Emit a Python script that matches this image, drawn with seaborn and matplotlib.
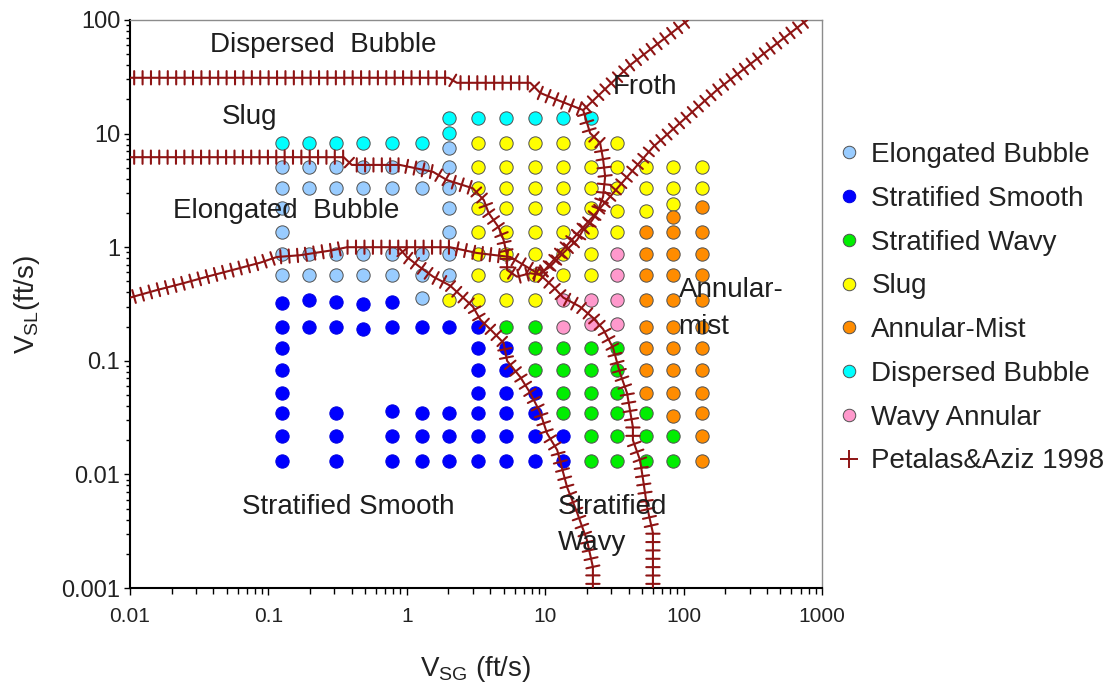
import matplotlib
matplotlib.use("Agg")
import matplotlib.pyplot as plt
import matplotlib.patheffects as pe
from matplotlib.lines import Line2D
import pandas as pd
import seaborn as sns

# ---------------------------------------------------------------------------
# Observed flow regimes: superficial gas (VSG) and liquid (VSL) velocity, ft/s
# ---------------------------------------------------------------------------
EB_VSG = [0.125, 0.125, 0.125, 0.125, 0.125, 0.125,
          0.197, 0.197, 0.197, 0.197,
          0.308, 0.308, 0.308, 0.308,
          0.483, 0.483, 0.483, 0.483,
          0.778, 0.778, 0.778, 0.778,
          1.28, 1.28, 1.28, 1.28, 1.28,
          2.03, 2.03, 2.03, 2.03, 2.03, 2.03, 2.03]
EB_VSL = [5.1, 3.3, 2.2, 1.37, 0.88, 0.57,
          5.1, 3.3, 0.88, 0.57,
          5.1, 3.3, 0.88, 0.57,
          5.1, 3.3, 0.88, 0.57,
          5.1, 3.3, 0.88, 0.57,
          5.1, 3.3, 0.88, 0.57, 0.36,
          7.5, 5.1, 3.3, 2.2, 1.37, 0.88, 0.57]

SS_VSG = [0.125, 0.125, 0.125, 0.125, 0.125, 0.125, 0.125, 0.125,
          0.197, 0.197,
          0.308, 0.308, 0.308, 0.308, 0.308,
          0.483, 0.483,
          0.778, 0.778, 0.778, 0.778, 0.778,
          1.28, 1.28, 1.28, 1.28,
          2.03, 2.03, 2.03, 2.03,
          3.25, 3.25, 3.25, 3.25, 3.25, 3.25, 3.25,
          5.21, 5.21, 5.21, 5.21, 5.21, 5.21,
          8.44, 8.44, 8.44, 8.44,
          13.5, 13.5]
SS_VSL = [0.324, 0.2, 0.13, 0.083, 0.052, 0.035, 0.022, 0.013,
          0.34, 0.2,
          0.33, 0.2, 0.035, 0.022, 0.013,
          0.316, 0.19,
          0.33, 0.2, 0.036, 0.022, 0.013,
          0.2, 0.035, 0.022, 0.013,
          0.2, 0.035, 0.022, 0.013,
          0.2, 0.13, 0.083, 0.052, 0.035, 0.022, 0.013,
          0.13, 0.083, 0.052, 0.035, 0.022, 0.013,
          0.052, 0.035, 0.022, 0.013,
          0.022, 0.013]

SW_VSG = [5.21,
          8.44, 8.44, 8.44,
          13.5, 13.5, 13.5, 13.5,
          21.3, 21.3, 21.3, 21.3, 21.3, 21.3,
          33.2, 33.2, 33.2, 33.2, 33.2, 33.2,
          53.5, 53.5, 53.5,
          84.3, 84.3]
SW_VSL = [0.2,
          0.2, 0.13, 0.083,
          0.13, 0.083, 0.052, 0.035,
          0.13, 0.083, 0.052, 0.035, 0.022, 0.013,
          0.13, 0.083, 0.052, 0.035, 0.022, 0.013,
          0.035, 0.022, 0.013,
          0.022, 0.013]

SL_VSG = [2.03,
          3.25, 3.25, 3.25, 3.25, 3.25, 3.25, 3.25, 3.25,
          5.21, 5.21, 5.21, 5.21, 5.21, 5.21, 5.21, 5.21,
          8.44, 8.44, 8.44, 8.44, 8.44, 8.44, 8.44, 8.44,
          13.5, 13.5, 13.5, 13.5, 13.5, 13.5, 13.5,
          21.3, 21.3, 21.3, 21.3, 21.3, 21.3, 21.3,
          33.2, 33.2, 33.2, 33.2, 33.2,
          53.5, 53.5, 53.5,
          84.3, 84.3, 84.3,
          135.0, 135.0]
SL_VSL = [0.34,
          8.2, 5.1, 3.3, 2.2, 1.37, 0.88, 0.57, 0.34,
          8.2, 5.1, 3.3, 2.2, 1.37, 0.88, 0.57, 0.34,
          8.2, 5.1, 3.3, 2.2, 1.37, 0.88, 0.57, 0.34,
          8.2, 5.1, 3.3, 2.2, 1.37, 0.88, 0.57,
          8.2, 5.1, 3.3, 2.2, 1.37, 0.88, 0.57,
          8.2, 5.1, 3.3, 2.1, 1.37,
          5.1, 3.3, 2.1,
          5.1, 3.3, 2.4,
          5.1, 3.3]

AM_VSG = [53.5, 53.5, 53.5, 53.5, 53.5, 53.5, 53.5, 53.5,
          84.3, 84.3, 84.3, 84.3, 84.3, 84.3, 84.3, 84.3, 84.3, 84.3,
          135.0, 135.0, 135.0, 135.0, 135.0, 135.0, 135.0, 135.0, 135.0,
          135.0, 135.0, 135.0]
AM_VSL = [1.37, 0.88, 0.57, 0.34, 0.2, 0.13, 0.083, 0.052,
          1.84, 1.37, 0.88, 0.57, 0.34, 0.2, 0.13, 0.083, 0.052, 0.033,
          2.26, 1.37, 0.88, 0.57, 0.34, 0.2, 0.13, 0.083, 0.052, 0.035,
          0.022, 0.013]

DB_VSG = [0.125, 0.197, 0.308, 0.483, 0.778, 1.28,
          2.03, 2.03,
          3.25, 5.21, 8.44, 13.5, 21.3]
DB_VSL = [8.2, 8.2, 8.2, 8.2, 8.2, 8.2,
          13.8, 10.1,
          13.8, 13.8, 13.8, 13.8, 13.8]

WA_VSG = [13.5, 13.5, 21.3, 21.3, 33.2, 33.2, 33.2, 33.2]
WA_VSL = [0.34, 0.2, 0.34, 0.21, 0.88, 0.57, 0.34, 0.21]

# ---------------------------------------------------------------------------
# Petalas & Aziz (1998) transition boundaries, (VSG, VSL) in ft/s
# ---------------------------------------------------------------------------
PA_DISPERSED_VSG = [0.01, 2.0, 2.3, 7.8, 9.2, 12.2, 18.8]
PA_DISPERSED_VSL = [31.0, 31.0, 28.0, 28.0, 22.8, 19.8, 16.1]

PA_FROTH_VSG = [18.8, 41.0, 108.0]
PA_FROTH_VSL = [16.1, 40.0, 100.0]

PA_INTERMITTENT_VSG = [18.8, 21.1, 24.9, 26.2, 27.1, 26.2, 23.7, 21.1, 18.8,
                       17.0, 13.5, 10.8, 9.2]
PA_INTERMITTENT_VSL = [16.1, 10.1, 8.3, 5.9, 4.2, 2.8, 2.0, 1.63, 1.42,
                       1.16, 0.89, 0.67, 0.59]

PA_ANNULAR_VSG = [9.2, 22.0, 60.0, 174.0, 780.0]
PA_ANNULAR_VSL = [0.57, 1.85, 7.6, 24.2, 100.0]

PA_ELONGATED_VSG = [0.01, 0.35, 0.4, 0.89, 1.55, 1.95, 3.0, 3.6, 3.9, 4.6,
                    5.0, 5.3, 5.3, 6.25, 7.8, 9.2, 11.4, 13.5, 17.8, 22.1,
                    26.2, 30.9, 34.7, 39.0, 43.0, 43.0, 48.4, 51.0, 54.4,
                    60.0, 60.0]
PA_ELONGATED_VSL = [6.2, 6.2, 5.3, 5.3, 4.6, 3.9, 3.3, 2.6, 2.0, 1.5,
                    1.16, 0.85, 0.63, 0.55, 0.59, 0.57, 0.45, 0.36, 0.30, 0.24,
                    0.19, 0.13, 0.078, 0.052, 0.026, 0.020, 0.0134, 0.0089,
                    0.0052, 0.00305, 0.001]

PA_STRATIFIED_VSG = [0.01, 0.0157, 0.024, 0.036, 0.055, 0.087, 0.115, 0.169,
                     0.29, 0.37, 2.05, 3.2, 5.6, 9.2]
PA_STRATIFIED_VSL = [0.36, 0.42, 0.48, 0.55, 0.63, 0.73, 0.82, 0.85,
                     0.94, 1.0, 1.0, 0.89, 0.82, 0.57]

PA_SMOOTH_VSG = [0.89, 1.0, 1.24, 1.55, 2.05, 2.55, 3.0, 3.4, 4.0, 5.0, 5.3,
                 6.6, 7.8, 9.2, 10.3, 12.2, 13.5, 14.4, 17.0, 20.0, 22.1,
                 22.1]
PA_SMOOTH_VSL = [0.97, 0.82, 0.67, 0.55, 0.46, 0.36, 0.30, 0.23, 0.19, 0.144,
                 0.10, 0.072, 0.052, 0.035, 0.023, 0.0164, 0.0103, 0.0077,
                 0.0046, 0.00265, 0.00153, 0.001]

REGIMES = ["Elongated Bubble", "Stratified Smooth", "Stratified Wavy", "Slug",
           "Annular-Mist", "Dispersed Bubble", "Wavy Annular"]
REGIME_DATA = {
    "Elongated Bubble": (EB_VSG, EB_VSL),
    "Stratified Smooth": (SS_VSG, SS_VSL),
    "Stratified Wavy": (SW_VSG, SW_VSL),
    "Slug": (SL_VSG, SL_VSL),
    "Annular-Mist": (AM_VSG, AM_VSL),
    "Dispersed Bubble": (DB_VSG, DB_VSL),
    "Wavy Annular": (WA_VSG, WA_VSL),
}
FILL = {
    "Elongated Bubble": "#99CCFF",
    "Stratified Smooth": "#0000FF",
    "Stratified Wavy": "#00EE00",
    "Slug": "#FFFF00",
    "Annular-Mist": "#FF8C00",
    "Dispersed Bubble": "#00FFFF",
    "Wavy Annular": "#FF99CC",
}
EDGE = {k: "#505050" for k in REGIMES}
EDGE["Stratified Smooth"] = "#0000E0"
BOUNDARY_COLOR = "#8E1414"

frames = []
for name in REGIMES:
    vsg, vsl = REGIME_DATA[name]
    frames.append(pd.DataFrame({"VSG": vsg, "VSL": vsl, "Regime": name}))
points = pd.concat(frames, ignore_index=True)

boundaries = [
    (PA_DISPERSED_VSG, PA_DISPERSED_VSL),
    (PA_FROTH_VSG, PA_FROTH_VSL),
    (PA_INTERMITTENT_VSG, PA_INTERMITTENT_VSL),
    (PA_ANNULAR_VSG, PA_ANNULAR_VSL),
    (PA_ELONGATED_VSG, PA_ELONGATED_VSL),
    (PA_STRATIFIED_VSG, PA_STRATIFIED_VSL),
    (PA_SMOOTH_VSG, PA_SMOOTH_VSL),
]

# ---------------------------------------------------------------------------
sns.set_theme(style="white")
plt.rcParams["font.family"] = ["Liberation Sans", "DejaVu Sans"]
plt.rcParams["mathtext.default"] = "regular"

fig = plt.figure(figsize=(11.16, 6.94), dpi=100)
ax = fig.add_axes([0.1165, 0.1527, 0.6201, 0.8185])
ax.set_xscale("log")
ax.set_yscale("log")

for name in REGIMES:
    sub = points[points["Regime"] == name]
    sns.scatterplot(data=sub, x="VSG", y="VSL", color=FILL[name],
                    edgecolor=EDGE[name], linewidth=0.7, s=92, ax=ax,
                    legend=False, zorder=3)

cross_effects = [
    pe.TickedStroke(angle=90, spacing=6.0, length=0.8),
    pe.TickedStroke(angle=-90, spacing=6.0, length=0.8),
    pe.Normal(),
]
for vsg, vsl in boundaries:
    sns.lineplot(x=vsg, y=vsl, sort=False, estimator=None, ax=ax,
                 color=BOUNDARY_COLOR, linewidth=1.5, legend=False,
                 path_effects=cross_effects, zorder=4)

ax.set_xlim(0.01, 1000)
ax.set_ylim(0.001, 100)
ax.set_xticks([0.01, 0.1, 1, 10, 100, 1000],
              ["0.01", "0.1", "1", "10", "100", "1000"])
ax.set_yticks([0.001, 0.01, 0.1, 1, 10, 100],
              ["0.001", "0.01", "0.1", "1", "10", "100"])
ax.xaxis.set_minor_locator(matplotlib.ticker.LogLocator(base=10, subs=range(2, 10)))
ax.yaxis.set_minor_locator(matplotlib.ticker.LogLocator(base=10, subs=range(2, 10)))
ax.xaxis.set_minor_formatter(matplotlib.ticker.NullFormatter())
ax.yaxis.set_minor_formatter(matplotlib.ticker.NullFormatter())
ax.tick_params(which="both", direction="out", color="black", width=1.0,
               labelcolor="#222222")
ax.tick_params(axis="x", which="major", length=5, pad=9, labelsize=15)
ax.tick_params(axis="x", which="minor", length=4)
ax.tick_params(axis="y", which="major", length=4, pad=3, labelsize=17)
ax.tick_params(axis="y", which="minor", length=3)
ax.tick_params(axis="x", which="both", bottom=True, top=False)
ax.tick_params(axis="y", which="both", left=True, right=False)

for side in ("left", "bottom"):
    ax.spines[side].set_color("black")
    ax.spines[side].set_linewidth(1.5)
for side in ("top", "right"):
    ax.spines[side].set_color("#8C8C8C")
    ax.spines[side].set_linewidth(1.0)

ax.set_xlabel(r"V$_{SG}$ (ft/s)", fontsize=20, color="#222222", labelpad=20)
ax.set_ylabel(r"V$_{SL}$(ft/s)", fontsize=20, color="#222222", labelpad=14)

label_kw = dict(fontsize=20, color="#1E1E1E", ha="left", va="center", zorder=5)
ax.text(0.038, 60, "Dispersed  Bubble", **label_kw)
ax.text(0.046, 14, "Slug", **label_kw)
ax.text(0.0205, 2.1, "Elongated  Bubble", **label_kw)
ax.text(31, 25.7, "Froth", **label_kw)
ax.text(92, 0.42, "Annular-", **label_kw)
ax.text(92, 0.198, "mist", **label_kw)
ax.text(0.064, 0.0052, "Stratified Smooth", **label_kw)
ax.text(12.4, 0.0052, "Stratified", **label_kw)
ax.text(12.4, 0.0025, "Wavy", **label_kw)

handles = [Line2D([], [], linestyle="none", marker="o", markersize=9,
                  markerfacecolor=FILL[n], markeredgecolor=EDGE[n],
                  markeredgewidth=0.7) for n in REGIMES]
handles.append(Line2D([], [], linestyle="none", marker="+", markersize=13,
                      markeredgewidth=1.4, color=BOUNDARY_COLOR))
labels = REGIMES + ["Petalas&Aziz 1998"]
fig.legend(handles, labels, loc="upper left",
           bbox_to_anchor=(838 / 1116, 1 - 142 / 694), frameon=False,
           fontsize=20, labelspacing=0.64, handlelength=0.8,
           handletextpad=0.4, borderpad=0, borderaxespad=0,
           labelcolor="#222222")

fig.savefig("out.png", dpi=100)
